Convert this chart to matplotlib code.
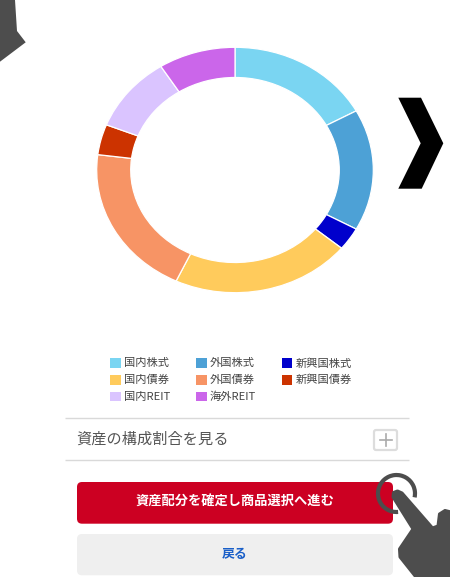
import matplotlib
matplotlib.use("Agg")
import matplotlib.pyplot as plt
from matplotlib.patches import FancyBboxPatch, Polygon, Arc, Rectangle

plt.rcParams['font.family'] = ['Noto Sans CJK JP', 'DejaVu Sans']

categories = ['国内株式', '外国株式', '新興国株式', '国内債券', '外国債券', '新興国債券', '国内REIT', '海外REIT']
values = [17, 16, 3, 21, 20, 4, 10, 9]
colors = ['#7AD5F2', '#4DA1D6', '#0000CC', '#FFCB5C', '#F79465', '#CC3300', '#DAC4FF', '#CB66EA']
legend_rows = [[0, 1, 2], [3, 4, 5], [6, 7]]
section_title = '資産の構成割合を見る'
confirm_label = '資産配分を確定し商品選択へ進む'
back_label = '戻る'

W, H = 450, 577
fig = plt.figure(figsize=(W / 100, H / 100), dpi=100, facecolor='white')

# Pixel-space page layer
page = fig.add_axes([0, 0, 1, 1])
page.set_xlim(0, W)
page.set_ylim(H, 0)
page.axis('off')

# Donut (slightly squashed in the reference)
cx, cy, rx, ry = 235, 170, 138.3, 122.7
m = 1.1
pie_ax = fig.add_axes([(cx - rx * m) / W, 1 - (cy + ry * m) / H, 2 * rx * m / W, 2 * ry * m / H])
pie_ax.pie(values, colors=colors, startangle=90, counterclock=False, radius=1,
           wedgeprops=dict(width=0.246, edgecolor='white', linewidth=0.9))
pie_ax.set_aspect('auto')
pie_ax.set_xlim(-m, m)
pie_ax.set_ylim(-m, m)
pie_ax.axis('off')

# Legend
col_x = [110, 196, 281.7]
for r, row in enumerate(legend_rows):
    y = 363 + r * 16.7
    for c, idx in enumerate(row):
        page.add_patch(Rectangle((col_x[c], y - 4.8), 10.7, 9.6, facecolor=colors[idx], edgecolor='none'))
        page.text(col_x[c] + 14, y + 0.2, categories[idx], fontsize=8.1, color='#444444', ha='left', va='center')

# Section rows
for y in (417.9, 459.9):
    page.plot([64.5, 409], [y, y], color='#D9D9D9', lw=1.0, solid_capstyle='butt')
page.text(76.5, 439.2, section_title, fontsize=10.95, color='#555555', ha='left', va='center')
page.add_patch(FancyBboxPatch((374, 430), 23, 20, boxstyle='round,pad=0,rounding_size=2',
                              facecolor='white', edgecolor='#DDDDDD', lw=1.6))
page.plot([379.5, 391.5], [440, 440], color='#AAAAAA', lw=1.2)
page.plot([385.5, 385.5], [434, 446], color='#AAAAAA', lw=1.2)

# Buttons
page.add_patch(FancyBboxPatch((77, 482), 316, 41.7, boxstyle='round,pad=0,rounding_size=5',
                              facecolor='#CC0022', edgecolor='none'))
page.text(235, 502.2, confirm_label, fontsize=9.5, color='white', fontweight='bold', ha='center', va='center')
page.add_patch(FancyBboxPatch((77, 534), 316, 41.3, boxstyle='round,pad=0,rounding_size=5',
                              facecolor='#EFEFEF', edgecolor='none'))
page.text(235, 553.9, back_label, fontsize=9.3, color='#1A5FC8', fontweight='bold', ha='center', va='center')

# Overlaid decorations
page.add_patch(Polygon([(398.3, 97.7), (421, 97.7), (443.3, 143.3), (421.7, 188.7),
                        (398.3, 188.7), (420.7, 143.3)], closed=True, facecolor='black', edgecolor='none'))
dark = '#4D4D4D'
page.add_patch(Polygon([(0, 0), (15, 0), (17, 31), (25.7, 42.3), (0, 61.7)], closed=True,
                       facecolor=dark, edgecolor='none'))
# y axis is inverted, so Arc angles run clockwise on screen
page.add_patch(Arc((396.5, 493.5), 37, 37, theta1=85, theta2=372, color=dark, lw=3.0))
page.add_patch(Polygon([(393, 497), (393.5, 492.5), (397.5, 491), (402, 493), (432.5, 528), (438, 526), (439.5, 514),
                        (445, 510.5), (451, 512), (451, 578), (416.7, 578), (400, 557), (399.5, 549),
                        (413, 529)], closed=True, facecolor=dark, edgecolor=dark, lw=2.2, joinstyle='round'))

fig.savefig('out.png', dpi=100, facecolor='white')
